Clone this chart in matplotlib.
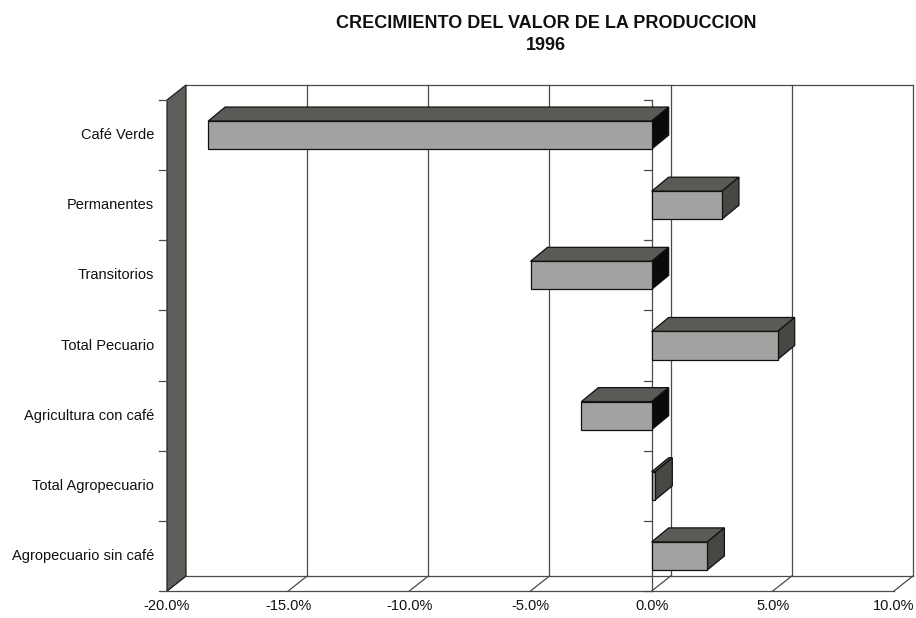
import matplotlib
matplotlib.use("Agg")
import matplotlib.pyplot as plt
from matplotlib.patches import Polygon, Rectangle

# ---- data ----
categories = ["Café Verde", "Permanentes", "Transitorios", "Total Pecuario",
              "Agricultura con café", "Total Agropecuario", "Agropecuario sin café"]
values = [-18.3, 2.9, -5.0, 5.2, -2.9, 0.15, 2.3]
xticks = [-20, -15, -10, -5, 0, 5, 10]
xticklabels = ["-20.0%", "-15.0%", "-10.0%", "-5.0%", "0.0%", "5.0%", "10.0%"]
title_line1 = "CRECIMIENTO DEL VALOR DE LA PRODUCCION"
title_line2 = "1996"

plt.rcParams['font.family'] = ['Liberation Sans', 'DejaVu Sans']

fig = plt.figure(figsize=(9.16, 6.18), dpi=100)
ax = fig.add_axes([167 / 916, 27 / 618, 727 / 916, 491 / 618])
ax.set_xlim(xticks[0], xticks[-1])
n = len(categories)
ax.set_ylim(n - 0.5, -0.5)
ax.axis('off')


def px_to_data(dx, dy):
    inv = ax.transData.inverted()
    x0, y0 = ax.transData.transform((0, 0))
    x1, y1 = inv.transform((x0 + dx, y0 + dy))
    return x1, y1


WDX, WDY = px_to_data(19, 15)     # wall depth
BDX, BDY = px_to_data(17, 14)     # bar depth
TLX, _ = px_to_data(8, 0)         # tick length
LPX, _ = px_to_data(13, 0)        # label pad
_, XLP = px_to_data(0, -15)       # x label pad

xmin, xmax = xticks[0], xticks[-1]
ytop, ybot = -0.5, n - 0.5
gc = '#4a4a4a'
lw = 0.9

# back wall gridlines
for t in xticks[1:]:
    ax.plot([t + WDX, t + WDX], [ytop + WDY, ybot + WDY], color=gc, lw=lw, clip_on=False, zorder=1)
ax.plot([xmin + WDX, xmax + WDX], [ytop + WDY, ytop + WDY], color=gc, lw=lw, clip_on=False, zorder=1)
ax.plot([xmin + WDX, xmax + WDX], [ybot + WDY, ybot + WDY], color=gc, lw=lw, clip_on=False, zorder=1)

# floor
ax.plot([xmin, xmax], [ybot, ybot], color=gc, lw=lw, clip_on=False, zorder=1)
for t in xticks:
    ax.plot([t, t + WDX], [ybot, ybot + WDY], color=gc, lw=lw, clip_on=False, zorder=1)

# left wall
wall = Polygon([(xmin, ytop), (xmin + WDX, ytop + WDY), (xmin + WDX, ybot + WDY), (xmin, ybot)],
               closed=True, facecolor='#5e5e5a', edgecolor='#222222', lw=lw, clip_on=False, zorder=2)
ax.add_patch(wall)

# category ticks (left wall and zero line)
for b in range(n + 1):
    yb = b - 0.5
    ax.plot([xmin - TLX, xmin], [yb, yb], color=gc, lw=lw, clip_on=False, zorder=2)
    ax.plot([0 - TLX, 0], [yb, yb], color=gc, lw=lw, clip_on=False, zorder=2)
ax.plot([0, 0], [ytop, ybot], color=gc, lw=lw, clip_on=False, zorder=2)

# bars
h = 0.4
for i, v in enumerate(values):
    x0, x1 = min(0, v), max(0, v)
    yt, yb = i - h / 2, i + h / 2
    front = Rectangle((x0, yt), x1 - x0, h, facecolor='#a2a2a0', edgecolor='#111111',
                      lw=lw, zorder=3, clip_on=False)
    top = Polygon([(x0, yt), (x1, yt), (x1 + BDX, yt + BDY), (x0 + BDX, yt + BDY)], closed=True,
                  facecolor='#5a5a56', edgecolor='#111111', lw=lw, zorder=3, clip_on=False)
    side = Polygon([(x1, yt), (x1 + BDX, yt + BDY), (x1 + BDX, yb + BDY), (x1, yb)], closed=True,
                   facecolor='#0a0a0a' if v < 0 else '#474744', edgecolor='#111111',
                   lw=lw, zorder=3, clip_on=False)
    ax.add_patch(top)
    ax.add_patch(side)
    ax.add_patch(front)

# labels
for i, c in enumerate(categories):
    ax.text(xmin - LPX, i, c, ha='right', va='center', fontsize=10.5, color='#111111')
for t, lab in zip(xticks, xticklabels):
    ax.text(t, ybot + XLP, lab, ha='center', va='center', fontsize=10.5, color='#111111')

fig.text(546 / 916, 1 - 23.5 / 618, title_line1, ha='center', va='center',
         fontsize=13, fontweight='bold', color='#111111')
fig.text(546 / 916, 1 - 46 / 618, title_line2, ha='center', va='center',
         fontsize=13, fontweight='bold', color='#111111')

fig.savefig("out.png", dpi=100)
